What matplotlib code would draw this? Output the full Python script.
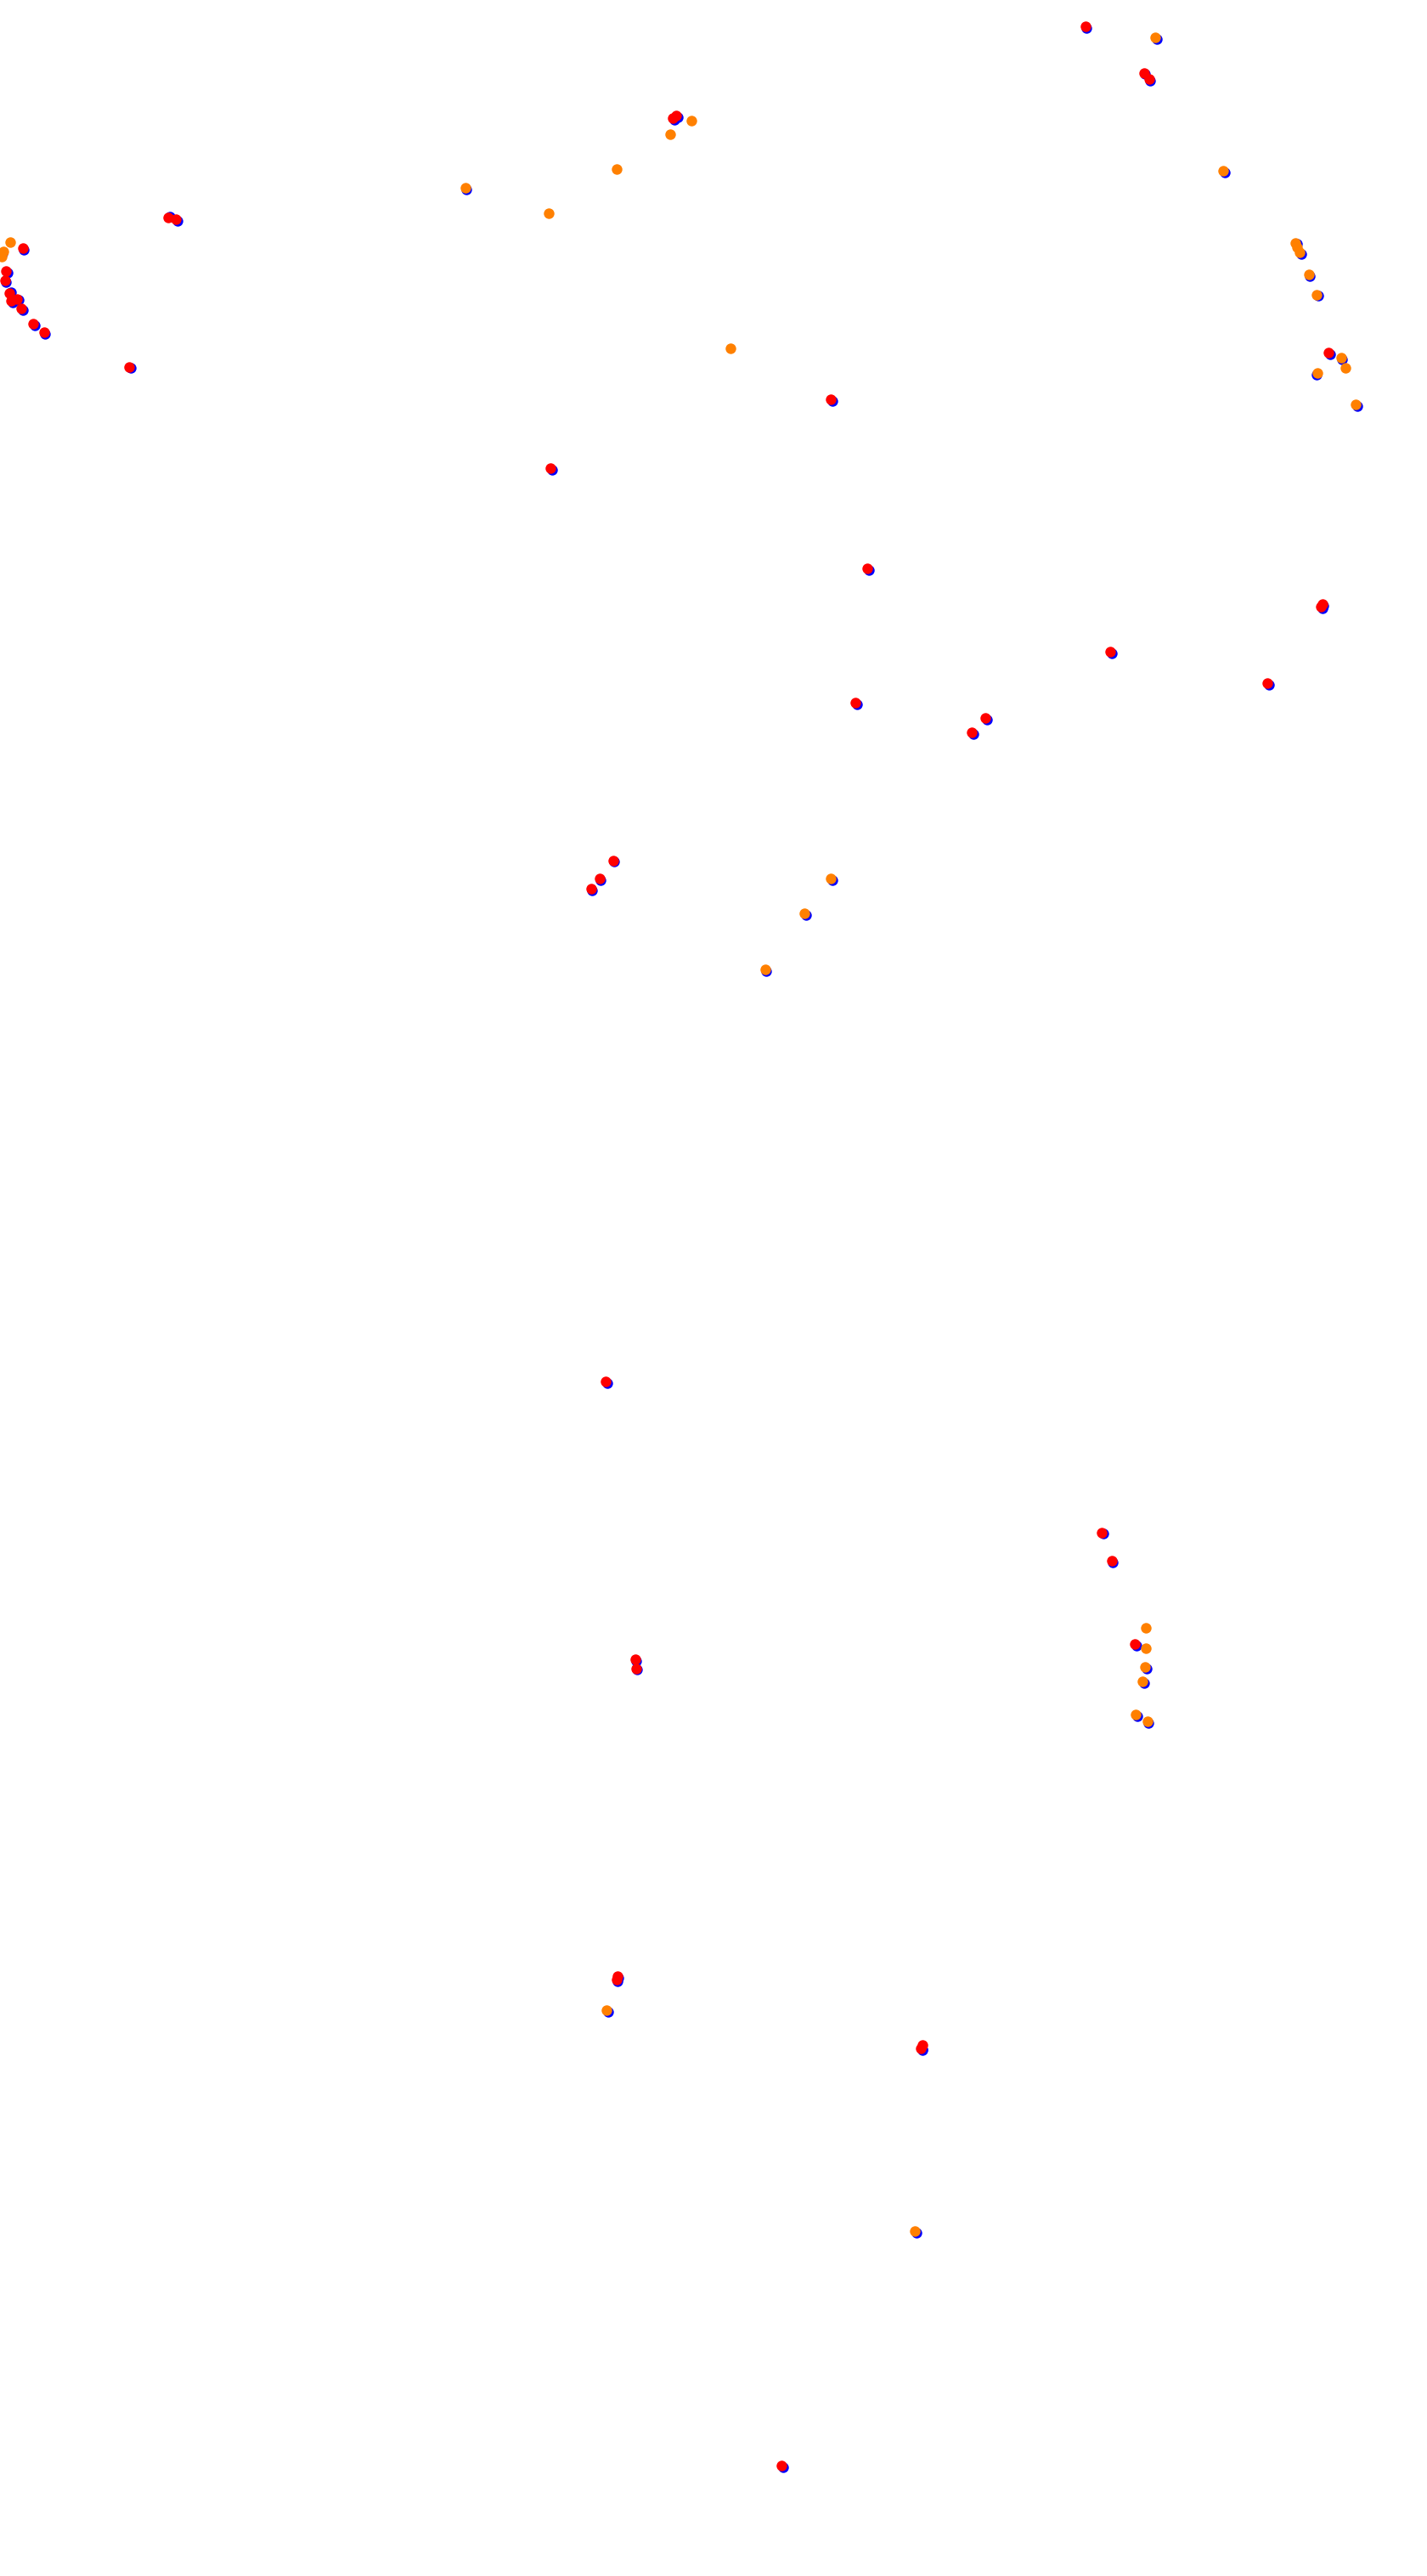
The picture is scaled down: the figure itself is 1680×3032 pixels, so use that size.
import matplotlib
matplotlib.use("Agg")
import matplotlib.pyplot as plt

# positions (pixel space, y downwards)
red_x = [1277.7, 1346.7, 1352.7, 792.3, 796, 198, 207,
         26.7, 7.3, 5.7, 11, 20, 13.3, 25, 39.3, 51.7, 152.3,
         1564, 978, 648, 1021, 1556.7, 1555.3, 1307, 1492, 1007, 1160, 1144,
         721.7, 705.7, 695.7, 713, 1297.3, 1308.7, 1336,
         747.7, 748.7, 726.7, 725.7, 1086, 1084, 920]
red_y = [31, 85.7, 93, 139, 136, 256.3, 258.3,
         292.3, 319.3, 330, 345, 351.7, 354.3, 363.3, 381, 391, 431.7,
         415, 470, 551, 669, 711, 714.3, 767, 804, 827, 845, 862,
         1012.7, 1034.3, 1046, 1626, 1803.7, 1836.7, 1935.3,
         1952.7, 1963.7, 2325.7, 2329.7, 2406.7, 2410.7, 2902]

orange_x = [1360, 813.7, 788.7, 725.7, 548, 645.7, 1440,
            12, 4, 2, 1525, 1527.3, 1530, 1540.7, 1550, 1579, 1584, 1550.7, 1596,
            860, 978, 947, 901,
            1348.7, 1348.7, 1348, 1345, 1337, 1350.7, 714, 1077]
orange_y = [44, 141.7, 157.7, 199, 221, 251, 201,
            285, 296, 302, 285.7, 290.7, 296.7, 323.3, 346.7, 421, 433.3, 439, 475.7,
            410, 1034, 1075, 1141,
            1915.7, 1940, 1961.7, 1979.3, 2017.7, 2025.7, 2366, 2626]

blue_x = [1279, 1348, 1354, 794, 797.5, 199.5, 208.5,
          28, 9, 7, 12.5, 21.5, 15, 26.5, 41, 53, 154,
          1565.5, 979.5, 649.5, 1022.5, 1557.5, 1556.5, 1308.5, 1493.5, 1008.5, 1161.5, 1145.5,
          723, 707, 697, 714.5, 1298.8, 1310.2, 1337.5,
          749, 750, 728, 727, 1085.5, 1085.5, 921.5,
          1361.5, 549, 1441.5, 3, 1526.5, 1531.5, 1541.5, 1551.5, 1580, 1550, 1597.5,
          979.5, 948.5, 902,
          1349.5, 1346.5, 1338.5, 1352, 715.5, 1078.5]
blue_y = [32.5, 87, 94.5, 140.5, 137.5, 254.5, 260,
          293.5, 320.5, 331.5, 344, 353, 356, 365, 382.5, 393, 433,
          416.5, 471.5, 552.5, 670.5, 713, 716, 768.5, 805.5, 828.5, 846.5, 863.5,
          1014, 1036, 1047.5, 1627.5, 1805, 1838.5, 1937,
          1955, 1965, 2328, 2332, 2412, 2412.5, 2903.5,
          46, 223, 202.5, 298, 287, 298.5, 325, 348, 423, 441, 477.5,
          1036, 1077, 1143,
          1963.5, 1981, 2019.5, 2028, 2368, 2628]

fig = plt.figure(figsize=(16.8, 30.32), dpi=100)
ax = fig.add_axes([0, 0, 1, 1])
ax.scatter(blue_x, blue_y, s=80, color="#0000ff", linewidths=0)
ax.scatter(red_x, red_y, s=80, color="#ff0000", linewidths=0)
ax.scatter(orange_x, orange_y, s=80, color="#ff8000", linewidths=0)
ax.set_xlim(0, 1680)
ax.set_ylim(3032, 0)
ax.axis("off")
fig.savefig("out.png", dpi=100)
